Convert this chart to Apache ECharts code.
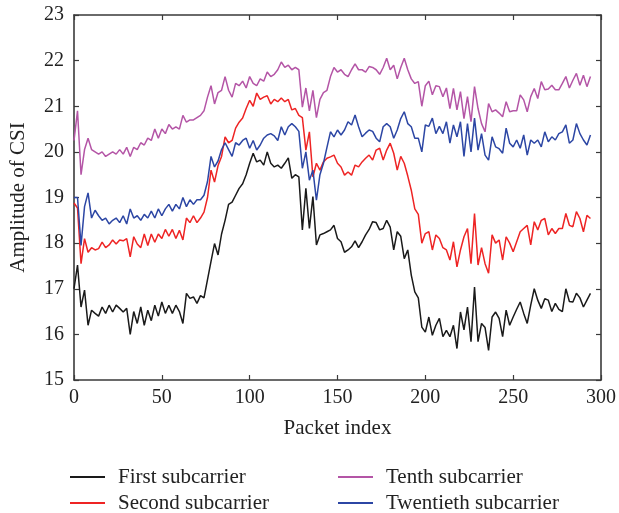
<!DOCTYPE html>
<html>
<head>
<meta charset="utf-8">
<script src="https://cdn.jsdelivr.net/npm/echarts@6.0.0/dist/echarts.min.js"></script>
<style>
  html, body { margin: 0; padding: 0; background: #fff; }
  #main { width: 619px; height: 513px; }
</style>
</head>
<body>
<div id="main"></div>
<script>
// samples every 2 packets (0, 2, 4, ... 294)
const packetStep = 2

const firstSub = [
  17.0, 17.52, 16.6, 16.97, 16.2, 16.53, 16.46, 16.4, 16.6, 16.46,
  16.64, 16.49, 16.64, 16.57, 16.49, 16.57, 16.0, 16.5, 16.24, 16.6,
  16.2, 16.53, 16.3, 16.64, 16.4, 16.71, 16.46, 16.64, 16.46, 16.64,
  16.5, 16.24, 16.9, 16.79, 16.82, 16.68, 16.85, 16.8, 17.2, 17.6,
  17.99, 17.74, 18.2, 18.5, 18.85, 18.9, 19.05, 19.2, 19.3, 19.5,
  19.75, 19.97, 19.78, 19.82, 19.71, 20.0, 19.75, 19.67, 19.71, 19.64,
  19.75, 19.87, 19.42, 19.5, 19.45, 18.29, 19.2, 18.32, 19.02, 17.96,
  18.18, 18.21, 18.25, 18.29, 18.39, 18.1, 18.03, 17.8, 17.85, 17.92,
  18.05, 17.9, 18.03, 18.18, 18.3, 18.47, 18.45, 18.29, 18.32, 18.5,
  18.35, 17.85, 18.25, 18.15, 17.66, 17.85, 17.3, 16.93, 16.8, 16.16,
  16.05, 16.38, 15.98, 16.2, 16.35, 15.95, 16.09, 15.95, 16.2, 15.69,
  16.49, 16.1, 16.6, 15.84, 17.04, 15.84, 16.24, 16.15, 15.65, 16.38,
  16.49, 16.35, 15.95, 16.53, 16.2, 16.38, 16.55, 16.71, 16.46, 16.24,
  16.64, 17.0, 16.75, 16.57, 16.78, 16.75, 16.5, 16.68, 16.55, 16.5,
  17.0, 16.72, 16.71, 16.9, 16.8, 16.6, 16.75, 16.9
]

const secondSub = [
  18.88, 18.77, 17.55, 18.1, 17.8, 17.9, 17.85, 17.88, 18.02, 17.9,
  17.96, 18.07, 17.98, 18.07, 18.05, 18.1, 17.7, 18.14, 17.98, 17.9,
  18.2, 17.95, 18.2, 18.02, 18.2, 18.1, 18.3, 18.15, 18.3, 18.1,
  18.28, 18.07, 18.55, 18.45, 18.6, 18.45, 18.55, 18.68, 19.0, 19.6,
  19.34, 19.7, 19.9, 20.33, 20.2, 20.25, 20.52, 20.65, 20.74, 20.95,
  21.13, 21.0, 21.29, 21.15, 21.2, 21.23, 21.05, 21.15, 21.1, 21.18,
  21.1, 21.15, 20.92, 20.95, 20.8, 20.75, 20.04, 20.44, 19.45, 19.75,
  19.6, 19.78, 19.86, 19.89, 19.93, 19.75, 19.67, 19.49, 19.56, 19.49,
  19.71, 19.67, 19.78, 19.86, 19.93, 19.82, 20.04, 20.08, 19.82, 20.04,
  20.19, 19.97, 19.6, 19.9, 19.75, 19.47, 19.16, 18.75, 18.63, 18.0,
  18.21, 18.25, 17.85, 18.18, 18.1, 17.9, 17.85, 17.63, 18.03, 17.48,
  17.85, 18.14, 18.32, 17.55, 18.65, 17.52, 17.9, 17.55, 17.34, 18.18,
  18.0, 18.07, 17.63, 18.14, 18.0, 17.81, 18.03, 18.25, 18.32, 18.39,
  17.96, 18.47, 18.29, 18.5, 18.54, 18.18, 18.32, 18.21, 18.32, 18.32,
  18.65, 18.39, 18.36, 18.69, 18.54, 18.25, 18.61, 18.54
]

const tenthSub = [
  20.25, 20.9, 19.5, 20.05, 20.3, 20.05, 20.0, 19.95, 20.0, 19.9,
  19.95, 20.0, 19.95, 20.05, 19.95, 20.1, 19.9, 20.1, 20.05, 20.2,
  20.15, 20.3, 20.25, 20.5, 20.3, 20.5, 20.4, 20.6, 20.5, 20.55,
  20.5, 20.8, 20.65, 20.7, 20.7, 20.75, 20.8, 20.9, 21.2, 21.45,
  21.05, 21.3, 21.35, 21.65, 21.35, 21.2, 21.5, 21.45, 21.55, 21.4,
  21.65, 21.5, 21.45, 21.6, 21.55, 21.75, 21.65, 21.7, 21.8, 21.97,
  21.85, 21.9, 21.8, 21.85, 21.8, 20.98, 21.4, 20.9, 21.35, 20.75,
  21.15, 21.3, 21.35, 21.65, 21.85, 21.75, 21.8, 21.7, 21.65, 21.8,
  21.93, 21.8, 21.8, 21.75, 21.87, 21.85, 21.8, 21.7, 21.85, 22.05,
  21.8, 21.9, 21.6, 21.85, 22.05, 21.8, 21.6, 21.5, 21.54, 21.0,
  21.45, 21.55, 21.25, 21.45, 21.43, 21.21, 21.4, 20.95, 21.39, 20.92,
  21.32, 20.73, 21.21, 20.66, 21.43, 20.95, 20.62, 20.44, 21.06, 20.88,
  20.92, 20.85, 20.77, 21.1, 20.88, 20.9, 20.9, 21.25, 21.14, 20.88,
  21.21, 21.39, 21.17, 21.54, 21.36, 21.38, 21.46, 21.36, 21.36, 21.5,
  21.65, 21.4, 21.57, 21.72, 21.46, 21.68, 21.43, 21.65
]

const twentiethSub = [
  19.0, 19.0, 17.95, 18.8, 19.1, 18.55, 18.72, 18.6, 18.5, 18.55,
  18.42, 18.5, 18.55, 18.45, 18.6, 18.42, 18.75, 18.55, 18.6, 18.5,
  18.63, 18.55, 18.7, 18.55, 18.75, 18.6, 18.75, 18.85, 18.7, 18.85,
  18.75, 19.0, 18.8, 18.95, 18.85, 18.95, 18.95, 19.05, 19.35, 19.9,
  19.67, 19.8, 20.05, 20.2, 20.05, 19.9, 20.2, 20.15, 20.25, 20.3,
  20.08, 20.25, 20.04, 20.15, 20.3, 20.37, 20.4, 20.35, 20.25, 20.55,
  20.37, 20.55, 20.62, 20.55, 20.45, 19.64, 20.0, 19.38, 19.6, 18.94,
  19.5, 19.75, 20.1, 20.44, 20.33, 20.48, 20.37, 20.48, 20.66, 20.59,
  20.81, 20.55, 20.33, 20.41, 20.48, 20.45, 20.3, 20.22, 20.55, 20.62,
  20.55, 20.3, 20.48, 20.73, 20.88, 20.62, 20.55, 20.3, 20.3, 20.0,
  20.59, 20.56, 20.74, 20.4, 20.56, 20.4, 20.66, 20.19, 20.59, 20.33,
  20.66, 19.9, 20.62, 20.0, 20.74, 20.04, 20.4, 19.93, 19.82, 20.33,
  20.11, 20.07, 19.97, 20.52, 20.19, 20.11, 20.26, 20.08, 20.37, 19.93,
  20.26, 20.19, 20.26, 20.11, 20.44, 20.22, 20.33, 20.26, 20.4, 20.44,
  20.59, 20.19, 20.26, 20.62, 20.4, 20.26, 20.15, 20.37
]

const seriesNames = ["First subcarrier", "Second subcarrier", "Tenth subcarrier", "Twentieth subcarrier"]
const seriesColors = ["#1a1a1a", "#ee2424", "#b455a6", "#2c46a4"]
const seriesValues = [firstSub, secondSub, tenthSub, twentiethSub]

const font = "Liberation Serif"
const frameColor = "#3a3a3a"

const myChart = echarts.init(document.getElementById("main"), null, { renderer: "canvas" })

const frameAxis = (extra) => Object.assign({
  axisLine: { show: true, onZero: false, lineStyle: { color: frameColor, width: 1.6 } },
  axisTick: { show: true, inside: true, length: 5, lineStyle: { color: frameColor, width: 1.2 } },
  splitLine: { show: false },
}, extra)

// one legend per entry: 2 x 2 grid under the plot
const legendSpots = [[70, 466], [70, 492], [338, 466], [338, 492]]
const legends = seriesNames.map((name, k) => ({
  data: [name],
  left: legendSpots[k][0], top: legendSpots[k][1],
  padding: 0,
  itemWidth: 35, itemHeight: 2,
  icon: "rect",
  textStyle: { fontFamily: font, fontSize: 21, color: "#222", lineHeight: 22, padding: [0, 0, 0, 8] },
}))

myChart.setOption({
  animation: false,
  textStyle: { fontFamily: font },
  grid: { left: 70, right: 15, top: 15, bottom: 133 },
  legend: legends,
  xAxis: [
    frameAxis({
      type: "value", min: 0, max: 300, interval: 50,
      name: "Packet index", nameLocation: "middle", nameGap: 38,
      nameTextStyle: { fontFamily: font, fontSize: 21, color: "#222" },
      axisLabel: { fontFamily: font, fontSize: 20, color: "#222", margin: 8 },
    }),
    frameAxis({
      type: "value", min: 0, max: 300, interval: 50, position: "top",
      axisLabel: { show: false },
    }),
  ],
  yAxis: [
    frameAxis({
      type: "value", min: 15, max: 23, interval: 1,
      name: "Amplitude of CSI", nameLocation: "middle", nameGap: 45,
      nameTextStyle: { fontFamily: font, fontSize: 21, color: "#222" },
      axisLabel: { fontFamily: font, fontSize: 20, color: "#222", margin: 10 },
    }),
    frameAxis({
      type: "value", min: 15, max: 23, interval: 1, position: "right",
      axisLabel: { show: false },
    }),
  ],
  series: seriesNames.map((name, k) => ({
    name,
    type: "line",
    showSymbol: false,
    symbol: "none",
    color: seriesColors[k],
    lineStyle: { width: 1.5, color: seriesColors[k] },
    data: seriesValues[k].map((v, i) => [i * packetStep, v]),
  })),
})
</script>
</body>
</html>
